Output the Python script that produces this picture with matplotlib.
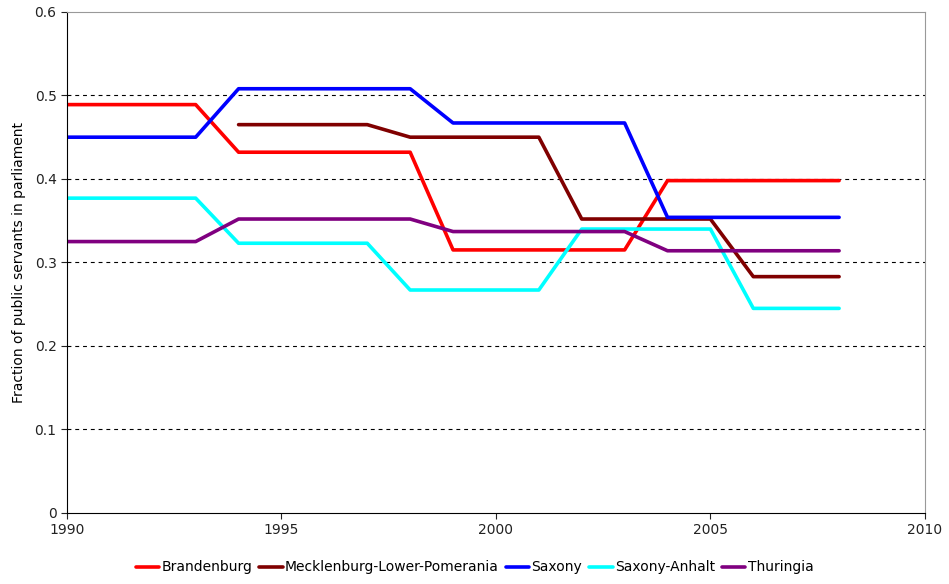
import matplotlib
matplotlib.use('Agg')
import matplotlib.pyplot as plt
import numpy as np

years = list(range(1990, 2009))
brandenburg = [0.489] * 4 + [0.432] * 5 + [0.315] * 5 + [0.398] * 5
mecklenburg = [np.nan] * 4 + [0.465] * 4 + [0.450] * 4 + [0.352] * 4 + [0.283] * 3
saxony = [0.450] * 4 + [0.508] * 5 + [0.467] * 5 + [0.354] * 5
saxony_anhalt = [0.377] * 4 + [0.323] * 4 + [0.267] * 4 + [0.340] * 4 + [0.245] * 3
thuringia = [0.325] * 4 + [0.352] * 5 + [0.337] * 5 + [0.314] * 5

series = {
    'Brandenburg': (brandenburg, '#ff0000'),
    'Mecklenburg-Lower-Pomerania': (mecklenburg, '#800000'),
    'Saxony': (saxony, '#0000ff'),
    'Saxony-Anhalt': (saxony_anhalt, '#00ffff'),
    'Thuringia': (thuringia, '#800080'),
}

plt.rcParams['font.family'] = 'DejaVu Sans'
fig = plt.figure(figsize=(9.49, 5.84), dpi=100)
ax = fig.add_axes([0.0706, 0.1216, 0.904, 0.858])

for name, (vals, color) in series.items():
    ax.plot(years, vals, color=color, lw=2.6, label=name, solid_capstyle='round')

ax.set_xlim(1990, 2010)
ax.set_ylim(0, 0.6)
ax.set_xticks([1990, 1995, 2000, 2005, 2010])
ax.set_yticks([0, 0.1, 0.2, 0.3, 0.4, 0.5, 0.6])
ax.set_yticklabels(['0', '0.1', '0.2', '0.3', '0.4', '0.5', '0.6'])
ax.tick_params(labelsize=10, length=4, direction='out', colors='#222222')
for y in [0.1, 0.2, 0.3, 0.4, 0.5]:
    ax.axhline(y, color='black', lw=0.8, ls=(0, (3.5, 3.5)), zorder=0)
ax.spines['top'].set_color('#999999')
ax.spines['right'].set_color('#999999')
ax.spines['left'].set_color('black')
ax.spines['bottom'].set_color('black')
ax.set_ylabel('Fraction of public servants in parliament', fontsize=10, labelpad=6)

fig.legend(loc='lower center', bbox_to_anchor=(0.5, -0.005), ncol=5, frameon=False,
           fontsize=10, handlelength=1.7, handletextpad=0.15, columnspacing=0.5)

fig.savefig('out.png', dpi=100)
